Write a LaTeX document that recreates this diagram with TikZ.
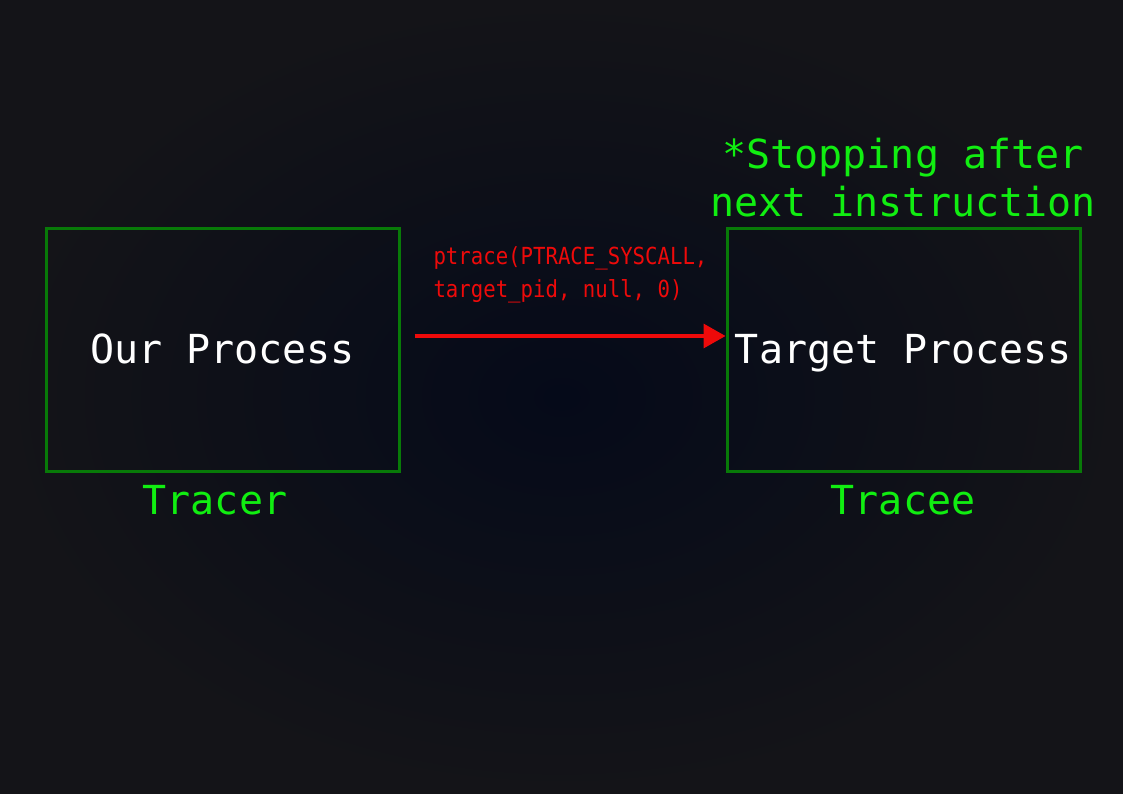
\documentclass[tikz,border=0pt]{standalone}
\usepackage{fontspec}
\usepackage{tikz}
\usetikzlibrary{arrows.meta}
\newfontfamily\boxfont{DejaVu Sans Mono}
\newfontfamily\callfont[FakeStretch=0.88]{DejaVu Sans Mono}
\definecolor{bgedge}{HTML}{141418}
\definecolor{bgmid}{HTML}{050A19}
\definecolor{boxgreen}{HTML}{087A08}
\definecolor{tagreen}{HTML}{11EE11}
\definecolor{callred}{HTML}{EE0A0A}
\tikzset{
  procbox/.style={draw=boxgreen, line width=3pt, minimum width=353pt, minimum height=242pt,
    text=white, text height=30pt, text depth=4pt, font=\boxfont\fontsize{40}{48}\selectfont},
  roletag/.style={text=tagreen, font=\boxfont\fontsize{40}{48}\selectfont, align=center},
  calltag/.style={text=callred, font=\callfont\fontsize{23.5}{33}\selectfont, align=left},
}
\begin{document}
\begin{tikzpicture}[x=1pt, y=-1pt]
            % Background
            \useasboundingbox (0,0) rectangle (1123,794);
            \shade[inner color=bgmid, outer color=bgedge] (0,0) rectangle (1123,794);

            % Nodes
            \node[procbox] (ours) at (222.5, 350) {Our Process};
            \node[procbox] (target) at (903.5, 350) {Target Process};
            \node[roletag] (tracer) at (215, 500) {Tracer};
            \node[roletag] (tracee) at (903, 500) {Tracee};
            \node[roletag] (stop) at (903, 178) {*Stopping after\\next instruction};
            \node[calltag, anchor=west] (call) at (430, 275) {ptrace(PTRACE\_SYSCALL,\\target\_pid, null, 0)};

            % Lines
            \draw[-{Triangle[length=22pt, width=24pt]}, callred, line width=3.5pt, shorten <=14pt]
                ([yshift=14pt]ours.east) -- ([yshift=14pt]target.west);
        \end{tikzpicture}
\end{document}
